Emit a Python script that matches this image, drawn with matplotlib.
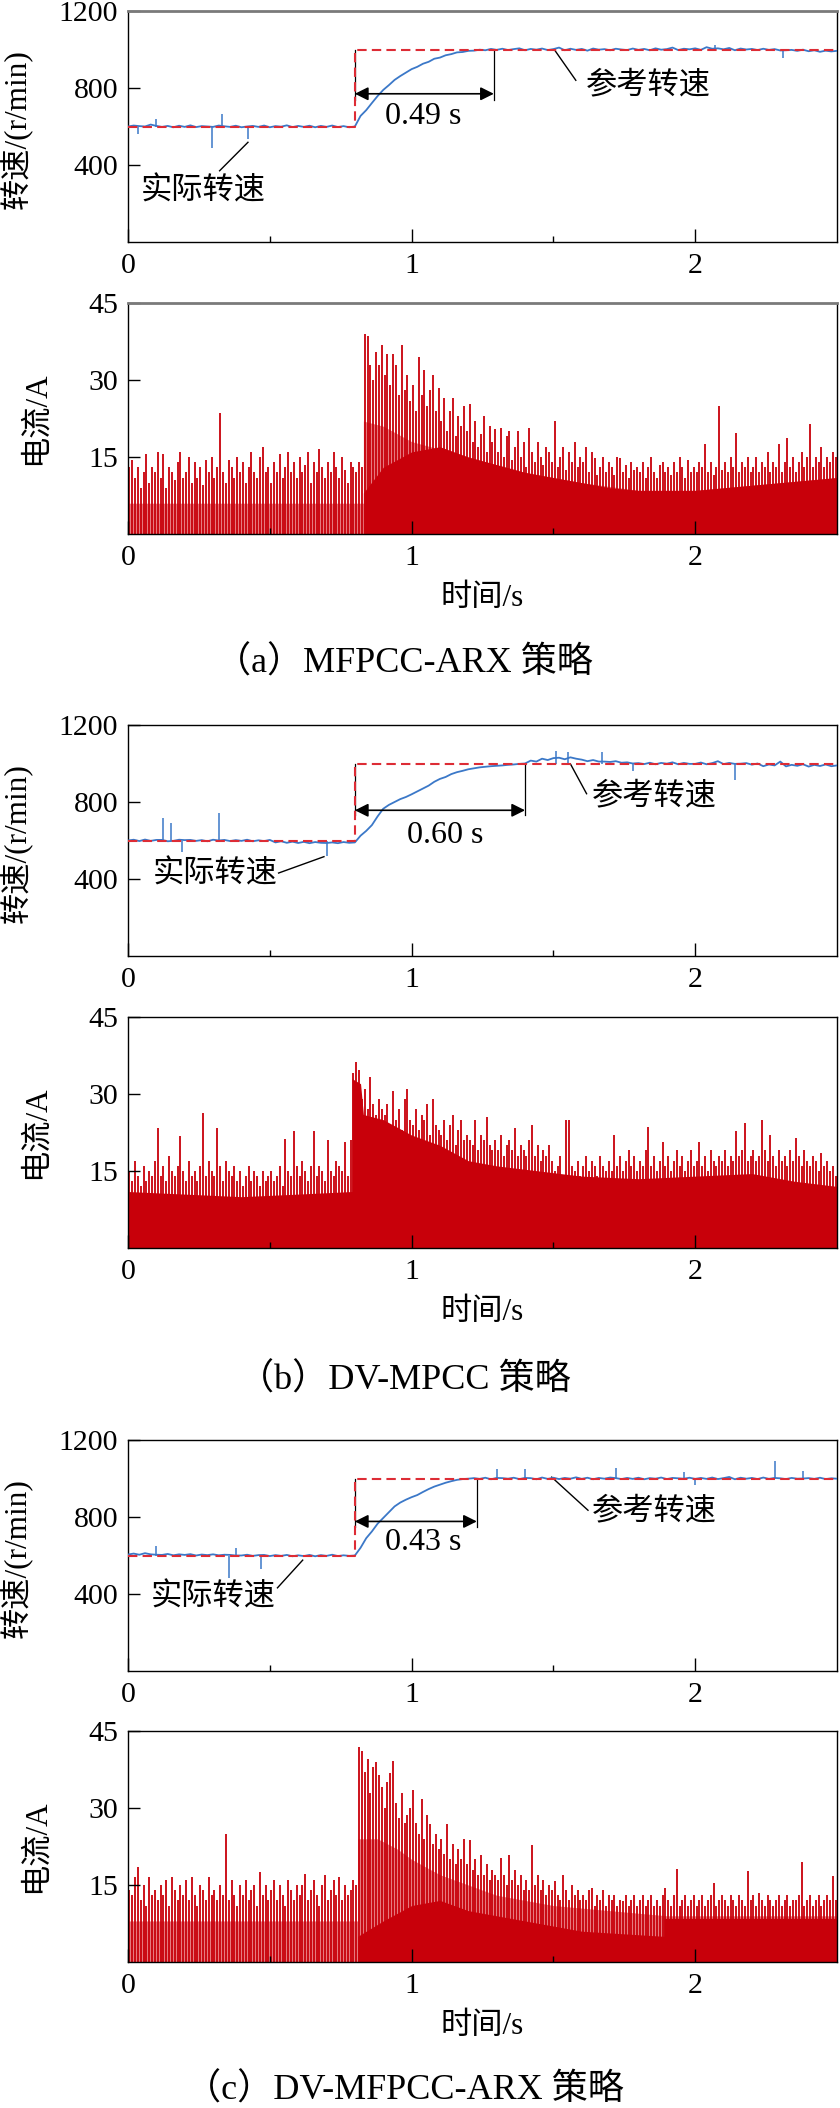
import numpy as np
import matplotlib
matplotlib.use('Agg')
import matplotlib.pyplot as plt

plt.rcParams['font.family'] = ['Liberation Serif', 'Noto Sans CJK SC']

# ---------------- data ----------------
# speed samples every 0.02 s (0 ... 2.5 s), r/min
t_spd = np.linspace(0, 2.5, 126)

spd_a = [
    600, 605, 602, 600, 610, 603, 598, 603, 596, 604,
    598, 606, 597, 602, 600, 598, 605, 601, 598, 604,
    596, 600, 603, 598, 605, 596, 602, 599, 606, 597,
    603, 598, 604, 596, 603, 598, 605, 597, 602, 596,
    600, 655, 685, 722, 758, 790, 815, 842, 862, 880,
    898, 910, 926, 936, 952, 958, 970, 976, 985, 987,
    993, 994, 999, 996, 1003, 998, 1004, 997, 1002, 1006,
    996, 1003, 999, 1005, 997, 1002, 1010, 996, 1004, 998,
    1003, 994, 1005, 999, 1002, 996, 1004, 1000, 997, 1005,
    998, 1003, 996, 1006, 999, 1002, 1010, 997, 1004, 1001,
    1006, 998, 1012, 1004, 1006, 1001, 1008, 996, 1005, 1000,
    1003, 997, 1004, 998, 1002, 995, 996, 998, 993, 999,
    991, 996, 988, 994, 990, 993]

spd_b = [
    600, 604, 597, 605, 598, 603, 603, 596, 598, 604,
    602, 603, 598, 602, 596, 604, 600, 603, 597, 602,
    598, 604, 596, 601, 597, 603, 590, 596, 588, 594,
    587, 593, 586, 592, 588, 587, 590, 586, 592, 588,
    590, 625, 650, 680, 725, 765, 785, 800, 815, 826,
    840, 855, 870, 885, 905, 920, 930, 945, 955, 962,
    970, 975, 980, 983, 986, 988, 990, 993, 995, 998,
    1000, 1015, 1010, 1025, 1018, 1028, 1030, 1022, 1032, 1025,
    1020, 1012, 1018, 1010, 1010, 1008, 1012, 1004, 1006, 1000,
    1002, 997, 1004, 996, 1003, 999, 1006, 996, 1003, 998,
    998, 1005, 996, 1002, 1012, 997, 1003, 998, 999, 1002,
    994, 1000, 986, 995, 990, 1010, 985, 993, 988, 996,
    984, 993, 987, 995, 986, 990]

spd_c = [
    605, 610, 604, 612, 606, 604, 603, 608, 601, 606,
    603, 607, 600, 605, 602, 606, 601, 604, 603, 600,
    600, 604, 598, 602, 603, 597, 602, 598, 603, 596,
    601, 597, 603, 596, 602, 598, 604, 597, 601, 598,
    600, 640, 690, 725, 765, 795, 825, 855, 875, 890,
    903, 914, 930, 945, 958, 968, 978, 986, 993, 997,
    999, 1002, 998, 1004, 996, 1003, 1002, 999, 1004, 997,
    1003, 1002, 996, 1005, 998, 1004, 997, 1003, 999, 1006,
    998, 1004, 996, 1003, 999, 1005, 1002, 997, 1003, 998,
    1004, 996, 1002, 999, 1005, 997, 1003, 1001, 999, 1004,
    998, 1003, 998, 1005, 997, 1002, 1008, 996, 1004, 999,
    1003, 997, 1005, 998, 1003, 1001, 997, 1003, 999, 1000,
    1002, 998, 1004, 997, 1001, 999]

# narrow spikes on the measured speed (time s, peak r/min)
spk_a_t = [0.035, 0.10, 0.295, 0.33, 0.423, 2.07, 2.31]
spk_a_v = [560, 640, 490, 665, 535, 1025, 955]
spk_b_t = [0.125, 0.15, 0.19, 0.32, 0.70, 1.51, 1.55, 1.67, 1.78, 2.14]
spk_b_v = [715, 690, 542, 745, 522, 1066, 1062, 1060, 960, 915]
spk_c_t = [0.10, 0.357, 0.38, 0.47, 1.30, 1.40, 1.72, 1.96, 2.00, 2.28, 2.38]
spk_c_v = [651, 484, 640, 530, 1050, 1048, 1054, 1035, 965, 1090, 1040]

# reference speed (step 600 -> 1000 r/min at 0.8 s)
ref_t = [0, 0.8, 0.8, 2.5]
ref_v = [600, 600, 1000, 1000]

# current peaks every 0.01 s, A
t_cur = 0.005 + 0.01 * np.arange(250)

cur_a = [
    13, 14.5, 11, 13, 9, 12, 15.5, 10, 13, 12,
    16, 11, 15.5, 9, 13, 12, 10.5, 14, 16, 11,
    12, 15, 10, 14, 11, 13, 9.5, 14.5, 12, 15,
    11, 13, 23.5, 12, 10, 14.5, 13, 11, 15, 12,
    14, 10, 13, 16, 12, 11, 15, 17, 12, 13,
    10, 14, 12, 15.5, 11, 13, 16, 12, 14, 11,
    15, 12, 13.5, 16, 10, 14, 12, 16.5, 13, 11,
    14, 12, 16, 13, 11, 15, 12.5, 10, 14, 13,
    12, 14, 13, 39, 38.5, 33, 30, 35.5, 33, 36.8,
    31, 35, 29, 35, 33, 27, 36.8, 28, 31, 26,
    29, 24, 34.5, 27, 32, 25, 28, 31, 24, 28.5,
    22, 26.5, 20, 24, 26.5, 19, 23, 21, 25, 20,
    25.3, 18, 22, 17, 19.5, 23, 16, 21, 18, 20.5,
    16, 20.6, 15, 19, 20, 14.5, 17, 20, 15, 18,
    13, 20.6, 16, 14, 18, 15, 13.5, 17, 16, 14,
    22, 13, 15, 17, 12.5, 16, 14, 18, 13, 15,
    14, 17, 12, 16, 14.8, 11.5, 13, 15, 12, 14,
    13, 11.5, 15, 14.8, 12, 13.5, 11, 14, 12.5, 13,
    12, 14, 11, 13, 15, 12, 11, 13.5, 14, 12,
    13, 11.5, 14, 12, 15, 13, 11, 14.5, 12, 13,
    12, 14, 13, 17.5, 12, 14, 11.5, 13, 25, 12.5,
    14, 12, 15, 13, 19.6, 12, 14, 13, 15, 12,
    13, 15, 12, 14, 13, 16, 12, 14, 13, 17.5,
    12, 14, 18.7, 13, 15, 12, 14, 16, 13, 15,
    21.5, 13, 15, 14, 17, 13, 15, 14, 16, 15]

cur_b = [
    15, 13, 17, 14, 12, 16, 13, 15, 14, 17,
    23.4, 14, 16, 13, 18, 15, 14, 16, 21.9, 15,
    13, 17, 14, 15, 13, 16, 26.3, 14, 17, 15,
    14, 23.4, 16, 13, 17, 15, 14, 16, 13, 15,
    12, 14, 16, 13, 15, 14, 12, 15, 13, 14,
    15, 13, 14, 16, 12, 21.2, 15, 14, 22.7, 16,
    14, 17, 15, 13, 16, 22.7, 14, 16, 15, 13,
    21, 15, 14, 17, 16, 15, 20.7, 14, 21, 34,
    36.3, 34.7, 29, 31, 27, 33.4, 28, 26, 29, 27,
    26, 28, 24, 30.5, 25, 27, 23, 29, 31, 25,
    24, 27, 23, 26, 25, 28, 22, 29, 24, 23,
    22, 25, 21, 24, 26, 20, 23, 25, 21, 22,
    21, 20, 25, 19, 22, 21, 25.6, 20, 19, 21,
    19, 22, 18, 20, 21, 19, 23.4, 18, 20, 19,
    18, 21, 24, 18, 20, 17, 19, 18, 20, 17,
    15, 16, 18, 14, 25, 25, 16, 15, 17, 14,
    16, 18, 15, 17, 16, 14, 18, 16, 15, 17,
    15, 22, 16, 18, 15, 17, 19, 16, 18, 15,
    17, 16, 19, 23.5, 16, 18, 15, 17, 20.7, 16,
    18, 15, 17, 19, 16, 18, 15, 17, 19, 16,
    17, 20.7, 16, 18, 15, 19, 17, 16, 18, 17,
    19, 16, 18, 17, 22.7, 18, 19, 24.3, 17, 18,
    19, 17, 18, 25, 19, 17, 22, 18, 16, 19,
    17, 18, 16, 19, 17, 21.4, 18, 16, 19, 17,
    16, 18, 17, 15, 18.5, 16, 17, 15, 16, 14]

cur_c = [
    14, 13, 16.6, 18.6, 12, 15, 11, 16.6, 13, 14,
    12, 15, 13, 16, 11, 16.6, 14, 12, 15, 13,
    16, 12, 16.6, 13, 11, 15, 14, 12, 16.6, 13,
    14, 12, 15, 13, 25, 12, 16, 13, 11, 15,
    13, 16, 12, 14, 15, 11, 17.5, 13, 15, 12,
    14, 16, 12, 15, 13, 11, 16, 14, 12, 15,
    13, 15, 17.2, 12, 14, 16, 13, 11, 15, 17,
    12, 14, 16, 13, 16.6, 12, 15, 13, 14, 16,
    15, 41.8, 41.1, 37, 39.6, 33, 38, 39, 36.4, 34,
    30, 35, 36.8, 39.2, 31, 28, 33, 27, 28.7, 30,
    33.6, 27, 25, 31.7, 24, 28.7, 26.8, 23, 25, 22,
    24, 21, 26.8, 20, 23, 19, 22, 20, 23.9, 19,
    23.8, 18, 20, 17, 20.9, 17, 19, 16, 18, 17,
    16, 20.2, 17, 15, 20.9, 16, 18, 15, 17, 14,
    16, 14, 22.8, 15, 17, 14, 16, 13, 15, 14,
    15.7, 13, 12, 17, 14, 12, 15, 13, 14, 12,
    13, 12, 14, 14.4, 11, 13, 12, 14, 11, 13,
    12, 13, 11, 12, 11.8, 13, 11, 12, 13, 11,
    12, 13.1, 11, 12, 13, 11, 12, 11, 13, 14.4,
    12, 11, 13, 18.2, 11, 12, 13, 11, 12, 13,
    11, 12, 13, 11, 12, 13, 15.4, 11, 12, 13,
    12, 11, 13, 12, 11, 13, 12, 11, 17.7, 12,
    13, 11, 13.5, 12, 11, 13, 12, 11, 12, 13,
    11, 12, 13, 11, 12, 12, 13, 19.5, 11, 12,
    13, 11, 12, 13, 11, 12, 13, 12, 16.7, 12]

# dense part of the current trace (envelopes of the filled band)
lite_a_t = [0, 0.83, 0.83, 0.9, 1.0, 1.2, 1.4, 1.6, 1.8, 2.0, 2.2, 2.4, 2.5]
lite_a_v = [6, 6, 22, 21, 18, 15, 12, 10, 8.5, 8.5, 9.5, 10.5, 11]
solid_a_t = [0, 0.83, 0.83, 0.9, 1.0, 1.1, 1.2, 1.3, 1.4, 1.5, 1.6, 1.7, 1.8, 2.0, 2.2, 2.4, 2.5]
solid_a_v = [0, 0, 8, 13, 16, 17, 15, 13.5, 12, 11, 10, 9, 8.5, 8.5, 9.5, 10.5, 11]

lite_b_t = [0, 2.5]
lite_b_v = [0, 0]
solid_b_t = [0, 0.2, 0.4, 0.6, 0.79, 0.79, 0.82, 0.83, 0.9, 1.0, 1.1, 1.2, 1.3,
             1.45, 1.6, 1.8, 2.0, 2.2, 2.35, 2.5]
solid_b_v = [11, 10.5, 10, 10.5, 11, 33, 32, 26, 25, 22, 20, 17, 16,
             15, 14, 13.5, 14, 14.5, 13, 12]

lite_c_t = [0, 0.81, 0.81, 0.88, 0.95, 1.0, 1.1, 1.2, 1.3, 1.5, 1.7, 1.9, 2.5]
lite_c_v = [8, 8, 24, 24, 22, 20, 17, 15, 13, 11, 10, 9, 9]
solid_c_t = [0, 0.81, 0.81, 0.9, 1.0, 1.1, 1.2, 1.4, 1.6, 1.89, 1.89, 2.5]
solid_c_v = [0, 0, 5, 8, 11, 12, 10, 8, 6, 5, 8.5, 8.5]

settle = ['0.49 s', '0.60 s', '0.43 s']
settle_end = [1.29, 1.40, 1.23]
captions = ['（a）MFPCC-ARX 策略', '（b）DV-MPCC 策略', '（c）DV-MFPCC-ARX 策略']

# ---------------- styling ----------------
BLUE = '#3B78C8'
REF_RED = '#DD2C35'
CUR_RED = '#C8000A'
PINK = '#E6797E'
W, H = 840, 2108
FS_TICK = 21.5
FS_LAB = 22.5

fig = plt.figure(figsize=(W / 100, H / 100), dpi=100)


def add_ax(top_px):
    return fig.add_axes([128 / W, 1 - (top_px + 231) / H, 709 / W, 231 / H])


def style_ax(ax, gray_top=False):
    ax.set_xlim(0, 2.5)
    ax.set_xticks([0, 1, 2])
    ax.set_xticks([0.5, 1.5], minor=True)
    ax.tick_params(axis='x', which='major', direction='in', length=9.5, width=1,
                   labelsize=FS_TICK, pad=8)
    ax.tick_params(axis='x', which='minor', direction='in', length=4.3, width=1)
    ax.tick_params(axis='y', which='major', direction='in', length=8.6, width=1,
                   labelsize=FS_TICK, pad=7)
    for s in ax.spines.values():
        s.set_linewidth(1.0)
        s.set_color('black')
    if gray_top:
        ax.spines['top'].set_color('#7a7a7a')
        ax.spines['top'].set_linewidth(2.0)


panels = [
    dict(spd=spd_a, sk=(spk_a_t, spk_a_v), cur=cur_a,
         lt=lite_a_t, lv=lite_a_v, st=solid_a_t, sv=solid_a_v,
         stop=11, ctop=303, cap_y=663, arrow_v=770, low_v=740, txt=(1.04, 650),
         act=dict(txt=(0.267, 262), line=((0.423, 0.323), (518, 370))),
         ref=dict(txt=(1.615, 812), line=((1.503, 1.579), (1000, 840)))),
    dict(spd=spd_b, sk=(spk_b_t, spk_b_v), cur=cur_b,
         lt=lite_b_t, lv=lite_b_v, st=solid_b_t, sv=solid_b_v,
         stop=725, ctop=1017, cap_y=1380, arrow_v=757, low_v=735, txt=(1.117, 628),
         act=dict(txt=(0.309, 422), line=((0.531, 0.691), (431, 516))),
         ref=dict(txt=(1.636, 826), line=((1.56, 1.617), (998, 843)))),
    dict(spd=spd_c, sk=(spk_c_t, spk_c_v), cur=cur_c,
         lt=lite_c_t, lv=lite_c_v, st=solid_c_t, sv=solid_c_v,
         stop=1440, ctop=1731, cap_y=2090, arrow_v=777, low_v=747, txt=(1.04, 668),
         act=dict(txt=(0.30, 379), line=((0.527, 0.616), (432, 576))),
         ref=dict(txt=(1.636, 826), line=((1.494, 1.622), (1007, 835)))),
]

for i, p in enumerate(panels):
    # ---- speed ----
    ax = add_ax(p['stop'])
    ax.plot(t_spd, p['spd'], color=BLUE, lw=1.3, zorder=3)
    sk_t, sk_v = p['sk']
    sk_base = [600 if t < 0.8 else 1000 for t in sk_t]
    ax.vlines(sk_t, sk_base, sk_v, color=BLUE, lw=1.1, zorder=3)
    ax.plot(ref_t, ref_v, color=REF_RED, lw=1.5, ls=(0, (4.5, 2.5)), zorder=4)
    t_end = settle_end[i]
    ax.plot([0.8, 0.8], [p['low_v'], 1000], color='black', lw=0.9, zorder=2)
    ax.plot([t_end, t_end], [p['low_v'], 1000], color='black', lw=0.9, zorder=2)
    ax.annotate('', xy=(0.8, p['arrow_v']), xytext=(t_end, p['arrow_v']),
                arrowprops=dict(arrowstyle='<|-|>', color='black', lw=1.2,
                                mutation_scale=20, shrinkA=0, shrinkB=0), zorder=5)
    ax.text(p['txt'][0], p['txt'][1], settle[i], fontsize=23, ha='center', va='center')
    a = p['act']
    ax.plot(a['line'][0], a['line'][1], color='black', lw=1.0)
    ax.text(a['txt'][0], a['txt'][1], '实际转速', fontsize=FS_LAB, ha='center', va='center')
    r = p['ref']
    ax.plot(r['line'][0], r['line'][1], color='black', lw=1.0)
    ax.text(r['txt'][0], r['txt'][1], '参考转速', fontsize=FS_LAB, ha='left', va='center')
    ax.set_ylim(0, 1200)
    ax.set_yticks([400, 800, 1200])
    style_ax(ax, gray_top=(i == 0))
    ax.set_ylabel('转速/(r/min)', fontsize=FS_LAB)
    ax.yaxis.label.set_va('center')
    ax.yaxis.set_label_coords(-0.157, 0.49)

    # ---- current ----
    ax = add_ax(p['ctop'])
    ax.fill_between(p['lt'], 0, p['lv'], color=PINK, lw=0, zorder=1)
    ax.fill_between(p['st'], 0, p['sv'], color=CUR_RED, lw=0, zorder=1.2)
    ax.vlines(t_cur, 0, p['cur'], color=CUR_RED, lw=1.3, zorder=1.5)
    ax.set_ylim(0, 45)
    ax.set_yticks([15, 30, 45])
    style_ax(ax, gray_top=(i == 0))
    ax.set_ylabel('电流/A', fontsize=FS_LAB)
    ax.yaxis.label.set_va('center')
    ax.yaxis.set_label_coords(-0.13, 0.5)
    ax.set_xlabel('时间/s', fontsize=FS_LAB)
    ax.xaxis.set_label_coords(0.5, -64 / 231)
    ax.xaxis.label.set_va('center')

    fig.text(404 / W, 1 - p['cap_y'] / H, captions[i], fontsize=26, ha='center', va='center')

fig.savefig('out.png', dpi=100)
